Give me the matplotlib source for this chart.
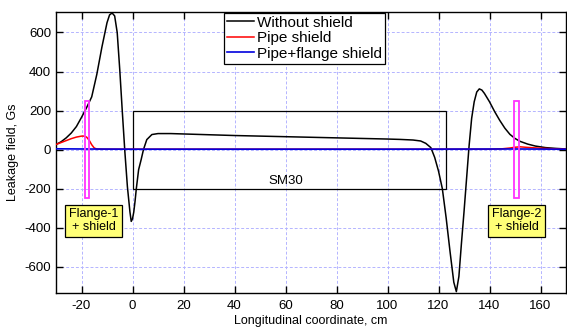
import matplotlib
matplotlib.use("Agg")
import matplotlib.pyplot as plt
from matplotlib.patches import Rectangle

plt.rcParams['font.family'] = ['Liberation Sans', 'DejaVu Sans']
plt.rcParams['axes.unicode_minus'] = False

# ---- data ----
x_black = [-30, -28, -26, -24, -22, -20, -18, -16, -14, -12, -10, -9, -8, -7, -6, -5, -4, -3, -2, -1,
           -0.5, 0, 0.5, 1, 1.5, 2.4, 3.4, 4.3, 5.6, 7.6, 10, 15, 20, 30, 40, 50, 60, 70, 80, 90, 100,
           105, 110, 113, 115, 117, 118.5, 120, 121.5, 123, 124.5, 126, 127, 128, 129, 130, 131, 132,
           133, 134, 135, 136, 137, 138, 140, 142, 144, 146, 148, 150, 152, 155, 158, 162, 166, 170]
y_black = [26, 40, 60, 85, 118, 165, 215, 270, 385, 525, 650, 690, 700, 685, 600, 410, 195, -10, -190, -320,
           -368, -355, -320, -265, -200, -103, -51, 0, 51, 77, 82, 82, 80, 76, 72, 69, 66, 63, 60, 57, 54,
           52, 49, 44, 32, 10, -40, -110, -200, -350, -520, -680, -728, -650, -480, -320, -150, 20,
           160, 245, 295, 311, 305, 288, 245, 195, 150, 110, 78, 57, 42, 28, 18, 10, 6, 3]

x_red = [-30, -28, -26, -24, -22, -20, -19, -18, -17, -16, -15, -14, -12, 0, 50, 100, 140, 145, 148, 150,
         152, 155, 160, 165, 170]
y_red = [26, 36, 46, 56, 64, 69, 69, 64, 48, 25, 8, 3, 2, 2, 2, 2, 2, 4, 8, 12, 14, 11, 7, 4, 2]

x_blue = [-30, -20, 0, 50, 100, 150, 170]
y_blue = [4, 3, 2, 2, 2, 3, 2]

series_labels = ["Without shield", "Pipe shield", "Pipe+flange shield"]

sm30_x = (0, 123)
sm30_y = (-200, 200)
flange1_x = (-18.8, -16.9)
flange2_x = (149.8, 151.7)
flange_y = (-250, 250)

x_ticks = [-20, 0, 20, 40, 60, 80, 100, 120, 140, 160]
y_ticks = [-600, -400, -200, 0, 200, 400, 600]

# ---- figure ----
fig = plt.figure(figsize=(5.67, 3.28), dpi=100)
ax = fig.add_axes([56/567, 35/328, 510/567, 281/328])

ax.set_xlim(-30, 170)
ax.set_ylim(-735, 705)
ax.set_xticks(x_ticks)
ax.set_yticks(y_ticks)
ax.grid(True, color='#b4b4ff', linestyle=(0, (3, 2)), linewidth=0.7)
ax.set_axisbelow(True)
ax.tick_params(direction='in', top=True, right=True, length=5, labelsize=9.5, width=1)
ax.tick_params(axis='x', pad=5)
for s in ax.spines.values():
    s.set_linewidth(1.0)

# SM30 magnet box
ax.add_patch(Rectangle((sm30_x[0], sm30_y[0]), sm30_x[1]-sm30_x[0], sm30_y[1]-sm30_y[0],
                       fill=False, edgecolor='black', linewidth=0.9, zorder=2))
ax.text(60.3, -162, "SM30", ha='center', va='center', fontsize=9.5)

# flanges
for fx in (flange1_x, flange2_x):
    ax.add_patch(Rectangle((fx[0], flange_y[0]), fx[1]-fx[0], flange_y[1]-flange_y[0],
                           fill=False, edgecolor='#ff33ff', linewidth=1.3, zorder=4))

l1, = ax.plot(x_black, y_black, color='black', linewidth=1.1, zorder=3)
l2, = ax.plot(x_red, y_red, color='red', linewidth=1.1, zorder=3)
l3, = ax.plot(x_blue, y_blue, color='#0000dd', linewidth=1.2, zorder=3)

box = dict(boxstyle='square,pad=0.3', facecolor='#ffff77', edgecolor='black', linewidth=0.9)
ax.text(-15.3, -364, "Flange-1\n+ shield", ha='center', va='center', fontsize=9,
        bbox=box, zorder=5, linespacing=1.05)
ax.text(150.6, -364, "Flange-2\n+ shield", ha='center', va='center', fontsize=9,
        bbox=box, zorder=5, linespacing=1.05)

leg = ax.legend([l1, l2, l3], series_labels, loc='upper left', bbox_to_anchor=(0.329, 0.998),
                fontsize=11, frameon=True, fancybox=False, framealpha=1, edgecolor='black',
                handlelength=1.8, handletextpad=0.15, labelspacing=0.1, borderpad=0.2,
                borderaxespad=0)
leg.get_frame().set_linewidth(0.9)

ax.set_xlabel("Longitudinal coordinate, cm", fontsize=9, labelpad=2)
ax.set_ylabel("Leakage field, Gs", fontsize=9, labelpad=4)

fig.savefig("out.png", dpi=100)
